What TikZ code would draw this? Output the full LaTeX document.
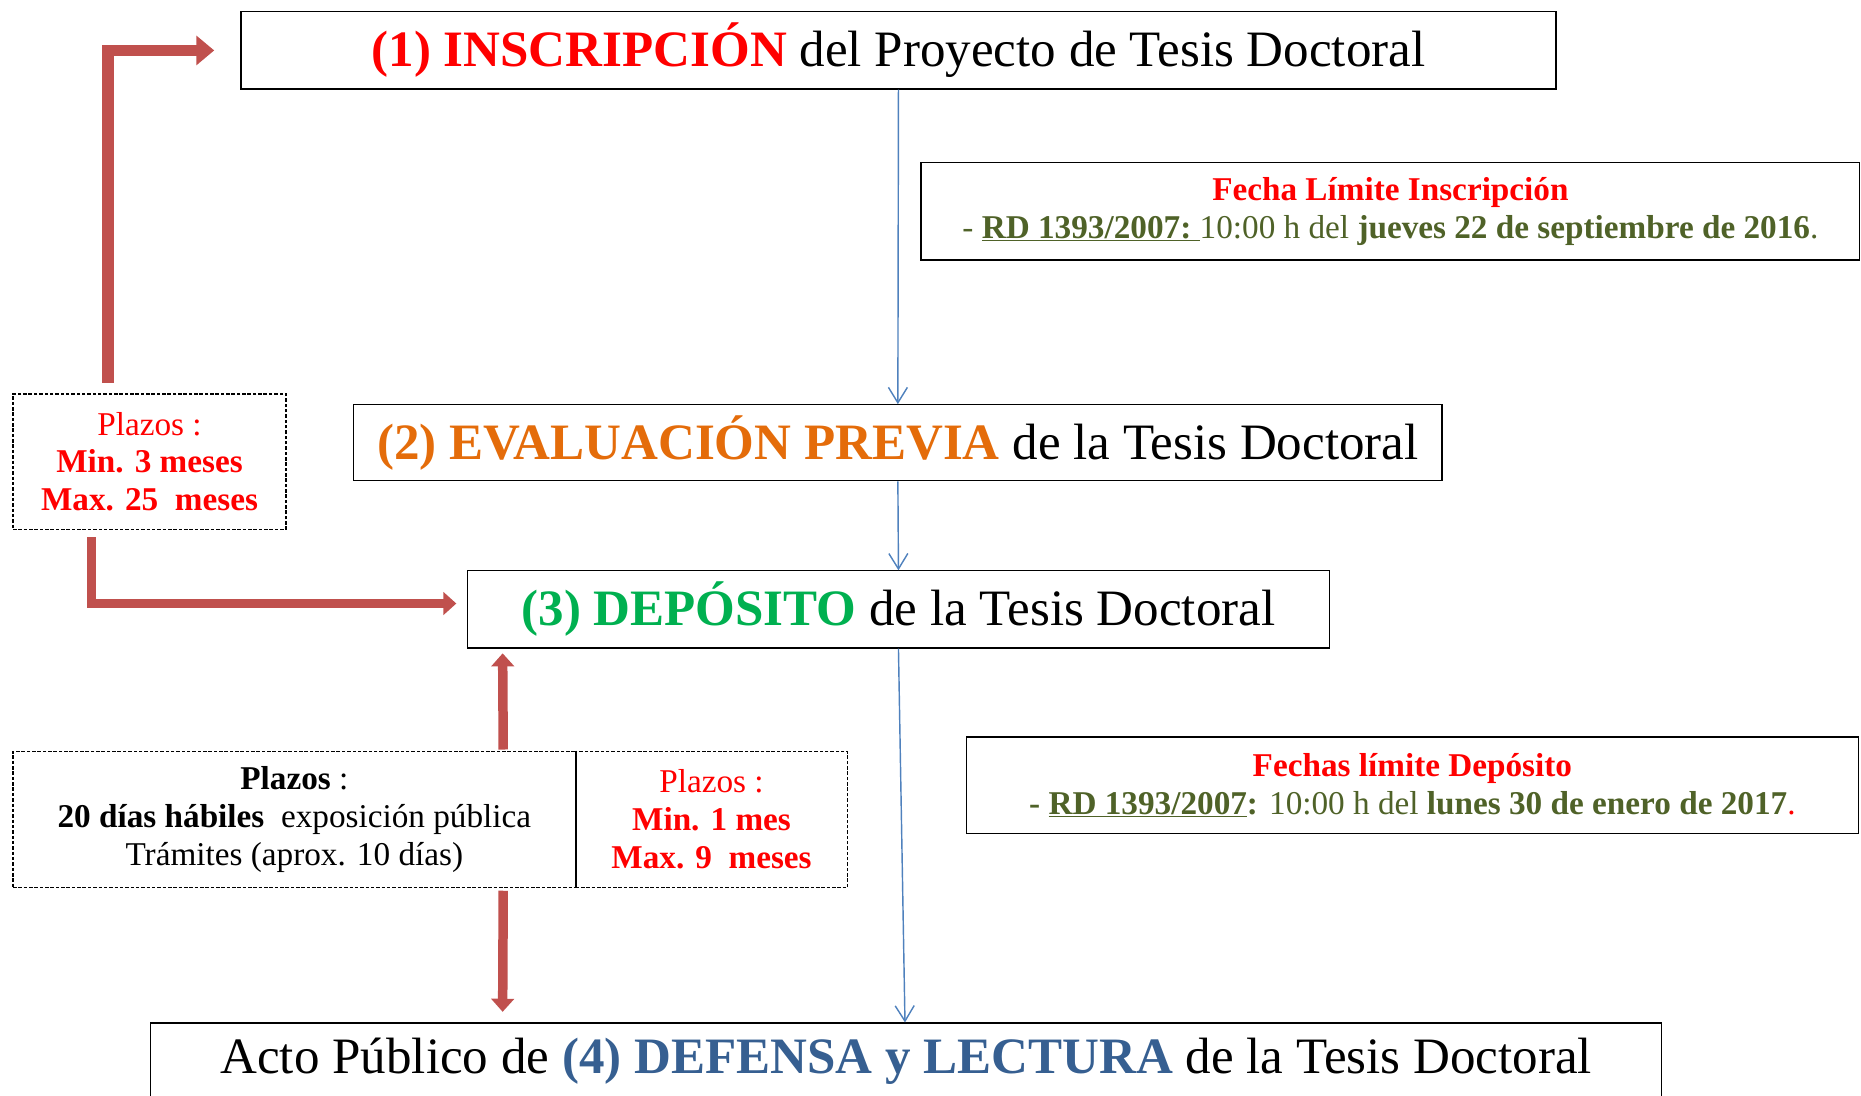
\documentclass[tikz,border=0pt]{standalone}
\usepackage{fontspec}
\setmainfont{Liberation Serif}
\usepackage{xcolor}
\usetikzlibrary{arrows.meta, positioning, calc}

\definecolor{inscred}{RGB}{255,0,0}
\definecolor{evalorange}{RGB}{228,108,10}
\definecolor{depgreen}{RGB}{0,176,80}
\definecolor{defblue}{RGB}{54,95,145}
\definecolor{rdolive}{RGB}{79,98,40}
\definecolor{arrowred}{RGB}{192,80,77}
\definecolor{linkblue}{RGB}{79,129,189}

\newcommand{\titlesize}{\fontsize{43}{49}\selectfont}
\newcommand{\notesize}{\fontsize{28}{32}\selectfont}

\begin{document}
\begin{tikzpicture}[x=1pt, y=-1pt,
                % Define styles
                stage/.style={rectangle, draw, line width=1pt, font=\titlesize, inner sep=0pt},
                note/.style={rectangle, draw, line width=1pt, font=\notesize, align=center, inner sep=0pt},
                term/.style={rectangle, draw, dash pattern=on 3pt off 1.5pt, line width=1pt, font=\notesize, align=center, inner sep=0pt},
                link/.style={draw=linkblue, line width=1.2pt, -{Straight Barb[length=13pt,width=16pt]}},
                flow/.style={draw=arrowred, line width=8pt, -{Triangle[length=11pt,width=19pt]}}
            ]
            \useasboundingbox (0,0) rectangle (1568,923);

            % --- Stages ---
            \node [stage, minimum width=1108pt, minimum height=65pt] (inscripcion) at (757,42.5)
                {\textcolor{inscred}{\textbf{(1) INSCRIPCIÓN}} del Proyecto de Tesis Doctoral};
            \node [stage, minimum width=917pt, minimum height=64pt] (evaluacion) at (756.5,373)
                {\textcolor{evalorange}{\textbf{(2) EVALUACIÓN PREVIA}} de la Tesis Doctoral};
            \node [stage, minimum width=726pt, minimum height=65pt] (deposito) at (757,513.5)
                {\textcolor{depgreen}{\textbf{(3) DEPÓSITO}} de la Tesis Doctoral};
            \node [stage, minimum width=1273pt, minimum height=64pt] (defensa) at (763.5,894)
                {Acto Público de \textcolor{defblue}{\textbf{(4) DEFENSA y LECTURA}} de la Tesis Doctoral};

            % --- Deadlines ---
            \node [note, minimum width=791pt, minimum height=82pt] (fechaInsc) at (1171.5,178)
                {\textcolor{inscred}{\textbf{Fecha Límite Inscripción}}\\
                 {\color{rdolive}- \underline{\textbf{RD 1393/2007:}\ }10:00 h del \textbf{jueves 22 de septiembre de 2016}.}};
            \node [note, minimum width=752pt, minimum height=81pt] (fechaDep) at (1190,661.5)
                {\textcolor{inscred}{\textbf{Fechas límite Depósito}}\\
                 {\color{rdolive}\textbf{- \underline{RD 1393/2007}:} 10:00 h del \textbf{lunes 30 de enero de 2017}}\textcolor{inscred}{.}};

            % --- Terms ---
            \node [term, text=inscred, minimum width=230pt, minimum height=114pt] (plazosA) at (126,389)
                {Plazos :\\ \textbf{Min. 3 meses}\\ \textbf{Max. 25\ \ meses}};
            \node [term, minimum width=474pt, minimum height=115pt] (tramites) at (248,690.5)
                {\textbf{Plazos} :\\ \textbf{20 días hábiles}\ \ exposición pública\\ Trámites (aprox. 10 días)};
            \node [term, text=inscred, minimum width=229pt, minimum height=115pt] (plazosB) at (599.5,690.5)
                {Plazos :\\ \textbf{Min. 1 mes}\\ \textbf{Max. 9\ \ meses}};
            \draw [line width=1pt] (tramites.north east) -- (tramites.south east);

            % --- Edges ---
            \path [link] (inscripcion.south) -- (evaluacion.north);
            \path [link] (evaluacion.south) -- (deposito.north);
            \path [link] (deposito.south) -- ([xshift=636pt]defensa.north west);

            % --- Time limits ---
            \path [flow, line width=10pt, -{Triangle[length=15pt,width=24pt]}]
                ([xshift=-35pt,yshift=9pt]plazosA.north) |- ([xshift=-22pt]inscripcion.west);
            \path [flow] ([xshift=-49pt,yshift=-6pt]plazosA.south) |- ([xshift=-9pt,yshift=5pt]deposito.west);
            \path [flow] ([xshift=176pt,yshift=1pt]tramites.north) -- ([xshift=30pt,yshift=-4pt]deposito.south west);
            \path [flow] ([xshift=176pt,yshift=-2pt]tramites.south) -- ([xshift=297pt,yshift=9pt]defensa.north west);

\end{tikzpicture}
\end{document}
